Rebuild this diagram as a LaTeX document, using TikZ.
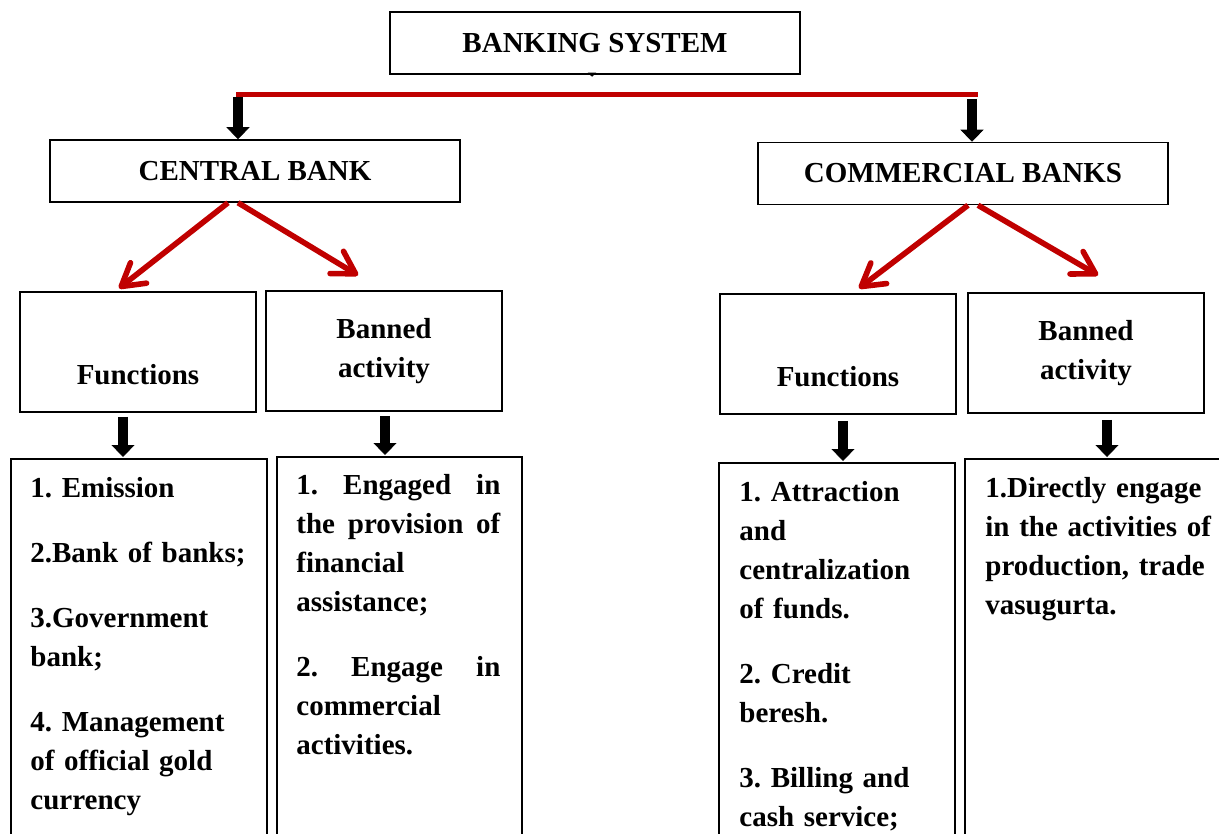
\documentclass[tikz,border=0pt]{standalone}
\usepackage{fontspec}
\setmainfont{Liberation Serif}
\usetikzlibrary{arrows.meta}
\definecolor{barred}{RGB}{192,0,0}
\newcommand{\jline}[2][102pt]{\leavevmode\hbox to #1{#2}}

\begin{document}
\frenchspacing
\begin{tikzpicture}[
  x=0.5pt,
  y=-0.5pt,
  font=\fontsize{14.5}{19.5}\selectfont\bfseries,
  box/.style={draw=black,line width=0.75pt,inner sep=0pt,align=center},
  headbox/.style={box,minimum width=205pt,minimum height=31pt},
  subbox/.style={box,minimum width=118pt,minimum height=60pt},
  listbox/.style={draw=black,line width=0.75pt,anchor=north west,minimum height=250pt,inner sep=0pt},
  listtext/.style={anchor=north west,inner sep=0pt,align=left},
  downarrow/.style={line width=5pt,-{Triangle[width=11.5pt,length=6pt,line width=0.4pt]}},
  splitarrow/.style={barred,line width=2.8pt,-{Straight Barb[length=11pt,width=13pt,round]}}
]
  \useasboundingbox (0,0) rectangle (1219,834);
  \clip (0,0) rectangle (1219,834);

  % top level
  \node[headbox] (sys) at (595,43) {BANKING SYSTEM};
  \coordinate (barL) at (236,95);
  \coordinate (barR) at (978,95);
  \draw[line width=0.4pt,-{Triangle[width=4pt,length=2pt]}] ([xshift=-1.5pt]sys.south) -- ([xshift=-1.5pt,yshift=-1pt]sys.south);
  \draw[barred,line width=2.5pt] (barL) -- (barR);

  \node[headbox] (cb) at (255,171) {CENTRAL BANK};
  \node[headbox] (cm) at (963,173.5) {COMMERCIAL BANKS};
  \draw[downarrow] ([xshift=1pt,yshift=-1pt]barL) -- ([xshift=1pt]barL |- cb.north);
  \draw[downarrow] ([xshift=-3pt,yshift=-2pt]barR) -- ([xshift=-3pt]barR |- cm.north);

  % second level
  \node[subbox] (cbfun) at (138,352) {\strut\\Functions};
  \node[subbox] (cbban) at (384,351) {Banned\\activity};
  \node[subbox] (cmfun) at (838,354) {\strut\\Functions};
  \node[subbox] (cmban) at (1086,353) {Banned\\activity};

  \draw[splitarrow] ([xshift=-13.5pt]cb.south) -- ([xshift=-9.5pt,yshift=1.5pt]cbfun.north);
  \draw[splitarrow] ([xshift=-8.5pt]cb.south) -- ([xshift=-13pt,yshift=7.5pt]cbban.north);
  \draw[splitarrow] ([xshift=2.5pt]cm.south) -- ([xshift=10.5pt,yshift=2.5pt]cmfun.north);
  \draw[splitarrow] ([xshift=7.5pt]cm.south) -- ([xshift=6pt,yshift=8.5pt]cmban.north);

  % lists, running past the bottom edge
  \node[listbox,minimum width=128pt] (cbfunbox) at (10,458) {};
  \node[listbox,minimum width=122.5pt] (cbbanbox) at (276,456) {};
  \node[listbox,minimum width=118pt] (cmfunbox) at (718,462) {};
  \node[listbox,minimum width=150pt] (cmbanbox) at (964,458) {};

  \draw[downarrow,shorten <=2pt,shorten >=0.5pt] ([xshift=-7.5pt]cbfun.south) -- ([xshift=-7.5pt]cbfun.south |- cbfunbox.north);
  \draw[downarrow,shorten <=2pt,shorten >=0.5pt] ([xshift=0.5pt]cbban.south) -- ([xshift=0.5pt]cbban.south |- cbbanbox.north);
  \draw[downarrow,shorten <=3pt,shorten >=0.5pt] ([xshift=2.5pt]cmfun.south) -- ([xshift=2.5pt]cmfun.south |- cmfunbox.north);
  \draw[downarrow,shorten <=3pt,shorten >=0.5pt] ([xshift=10.5pt]cmban.south) -- ([xshift=10.5pt]cmban.south |- cmbanbox.north);

  \node[listtext,text width=110pt] (cbfuntext) at ([shift={(20,19)}]cbfunbox.north west)
    {1. Emission\\[13pt]
     2.Bank of banks;\\[13pt]
     3.Government\\ bank;\\[13pt]
     4. Management\\ of official gold\\ currency};
  \node[listtext,text width=102pt] (cbbantext) at ([shift={(20,18)}]cbbanbox.north west)
    {\jline{1.\hfill Engaged\hfill in}\\ \jline{the\hfill provision\hfill of}\\ financial\\ assistance;\\[13pt]
     \jline{2.\hfill Engage\hfill in}\\ commercial\\ activities.};
  \node[listtext,text width=100pt] (cmfuntext) at ([shift={(21,19)}]cmfunbox.north west)
    {1. Attraction\\ and\\ centralization\\ of funds.\\[13pt]
     2. Credit\\ beresh.\\[13pt]
     3. Billing and\\ cash service;};
  \node[listtext,text width=125pt] (cmbantext) at ([shift={(21,19)}]cmbanbox.north west)
    {1.Directly engage\\ in the activities of\\ production, trade\\ vasugurta.};
\end{tikzpicture}
\end{document}
